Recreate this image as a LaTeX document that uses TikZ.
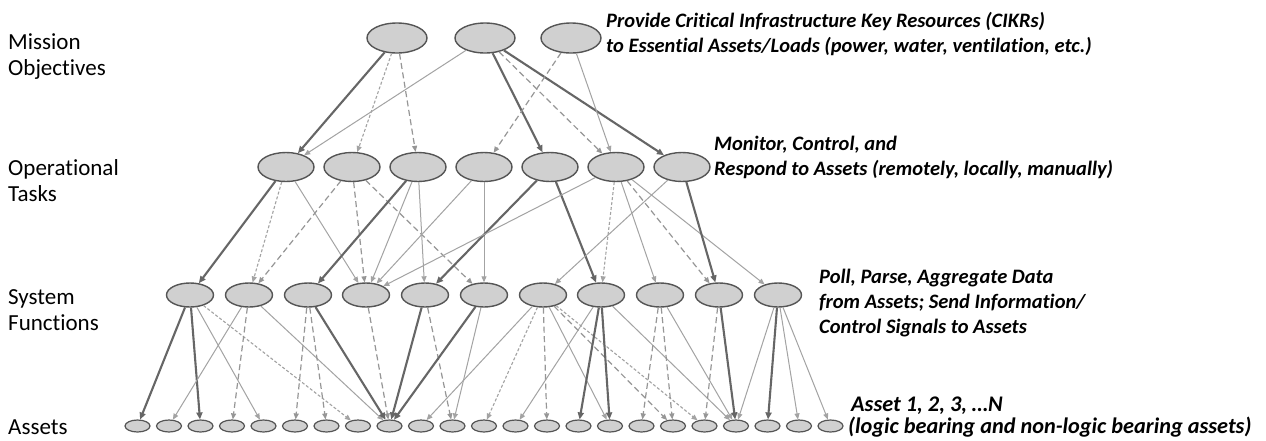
\documentclass[tikz,border=0pt]{standalone}
\usepackage{fontspec}
\setmainfont{Carlito}[Ligatures=NoCommon]
\usetikzlibrary{shapes.geometric,arrows.meta}
\definecolor{ndfill}{HTML}{D0D0D0}
\definecolor{ndline}{HTML}{555555}
\definecolor{edark}{HTML}{666666}
\definecolor{emid}{HTML}{969696}
\definecolor{elight}{HTML}{A3A3A3}
\begin{document}
\begin{tikzpicture}[x=1pt,y=-1pt,
  nd/.style={ellipse,draw=ndline,fill=ndfill,line width=1.4pt,inner sep=0pt},
  mo/.style={nd,minimum width=60pt,minimum height=30pt},
  op/.style={nd,minimum width=56pt,minimum height=29pt},
  sf/.style={nd,minimum width=47pt,minimum height=24pt},
  as/.style={nd,line width=1.2pt,minimum width=25pt,minimum height=12pt},
  thk/.style={draw=edark,line width=2.1pt,-{Triangle[length=7pt,width=6pt]}},
  thn/.style={draw=elight,line width=1pt,-{Triangle[length=6pt,width=5pt]}},
  dsh/.style={draw=emid,line width=1.2pt,dash pattern=on 6pt off 3.5pt,-{Triangle[length=6pt,width=5pt]}},
  dtt/.style={draw=elight,line width=1.1pt,dash pattern=on 3pt off 2pt,-{Triangle[length=6pt,width=5pt]}},
  lbl/.style={anchor=base west,inner sep=0pt,font=\fontsize{23}{26}\selectfont},
  ann/.style={anchor=base west,inner sep=0pt,font=\fontsize{20.5}{24}\selectfont\bfseries\itshape},
  annb/.style={ann,font=\fontsize{22.3}{24}\selectfont\bfseries\itshape},
]
\fill[white] (0,0) rectangle (1266,440);
\useasboundingbox (0,0) rectangle (1266,440);

% nodes
\foreach \x [count=\i] in {397,485,571} \node[mo] (M\i) at (\x,38) {};
\foreach \x [count=\i] in {286,352,418,484,550,616,682} \node[op] (O\i) at (\x,167) {};
\foreach \x [count=\i] in {190,249,308,366,425,484,543,601,660,719,778} \node[sf] (S\i) at (\x,295) {};
\foreach \i in {1,...,23} \node[as] (A\i) at ({137.5+31.5*(\i-1)},426) {};

% left labels
\node[lbl] (l1a) at (8,49) {Mission};
\node[lbl] (l1b) at (8,75) {Objectives};
\node[lbl] (l2a) at (8,175) {Operational};
\node[lbl] (l2b) at (8,201) {Tasks};
\node[lbl] (l3a) at (8,304) {System};
\node[lbl] (l3b) at (8,330) {Functions};
\node[lbl] (l4a) at (8,434) {Assets};

% annotations
\node[ann] (t1a) at (606,27) {Provide Critical Infrastructure Key Resources (CIKRs)};
\node[ann] (t1b) at (606,52) {to Essential Assets/Loads (power, water, ventilation, etc.)};
\node[ann] (t2a) at (714,150) {Monitor, Control, and};
\node[ann] (t2b) at (714,175) {Respond to Assets (remotely, locally, manually)};
\node[ann] (t3a) at (819,283) {Poll, Parse, Aggregate Data};
\node[ann] (t3b) at (819,308) {from Assets; Send Information/};
\node[ann] (t3c) at (819,333) {Control Signals to Assets};
\node[annb] (t4a) at (851,411) {Asset 1, 2, 3, …N};
\node[annb] (t4b) at (848,433.5) {(logic bearing and non-logic bearing assets)};

% mission -> operational
\draw[thk] (M1) -- (O1);
\draw[dtt] (M1) -- (O2);
\draw[dsh] (M1) -- (O3);
\draw[thn] (M2) -- (O1);
\draw[thk] (M2) -- (O5);
\draw[dsh] (M2) -- (O6);
\draw[thk] (M2) -- (O7);
\draw[dsh] (M3) -- (O4);
\draw[thn] (M3) -- (O6);

% operational -> system
\draw[thk] (O1) -- (S1);
\draw[dtt] (O1) -- (S2);
\draw[thn] (O1) -- (S4);
\draw[dsh] (O2) -- (S2);
\draw[dsh] (O2) -- (S4);
\draw[dsh] (O2) -- (S6);
\draw[thk] (O3) -- (S3);
\draw[thn] (O3) -- (S4);
\draw[thn] (O3) -- (S5);
\draw[thn] (O4) -- (S4);
\draw[thn] (O4) -- (S6);
\draw[thk] (O5) -- (S5);
\draw[thk] (O5) -- (S8);
\draw[thn] (O6) -- (S4);
\draw[dtt] (O6) -- (S8);
\draw[thn] (O6) -- (S9);
\draw[dsh] (O6) -- (S10);
\draw[thn] (O6) -- (S11);
\draw[thn] (O7) -- (S7);
\draw[thk] (O7) -- (S10);

% system -> assets
\draw[thk] (S1) -- (A1);
\draw[thk] (S1) -- (A3);
\draw[thn] (S1) -- (A5);
\draw[dtt] (S1) -- (A8);
\draw[thn] (S2) -- (A2);
\draw[dsh] (S2) -- (A4);
\draw[thn] (S2) -- (A9);
\draw[dsh] (S3) -- (A6);
\draw[dsh] (S3) -- (A7);
\draw[thk] (S3) -- (A9);
\draw[dsh] (S4) -- (A9);
\draw[thk] (S5) -- (A9);
\draw[dsh] (S5) -- (A11);
\draw[thk] (S6) -- (A9);
\draw[thn] (S6) -- (A11);
\draw[thn] (S7) -- (A10);
\draw[dtt] (S7) -- (A12);
\draw[dsh] (S7) -- (A14);
\draw[thn] (S7) -- (A16);
\draw[dsh] (S7) -- (A18);
\draw[dtt] (S7) -- (A19);
\draw[thn] (S8) -- (A13);
\draw[thk] (S8) -- (A15);
\draw[thk] (S8) -- (A16);
\draw[thn] (S8) -- (A20);
\draw[dsh] (S9) -- (A17);
\draw[dsh] (S9) -- (A18);
\draw[thn] (S9) -- (A20);
\draw[dsh] (S10) -- (A19);
\draw[thk] (S10) -- (A20);
\draw[thn] (S11) -- (A20);
\draw[thk] (S11) -- (A21);
\draw[thn] (S11) -- (A22);
\draw[thn] (S11) -- (A23);
\end{tikzpicture}
\end{document}
